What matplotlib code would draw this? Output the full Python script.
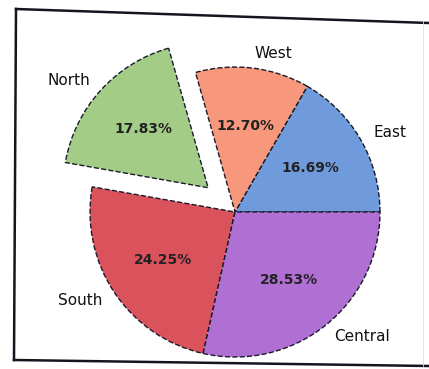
import matplotlib.pyplot as plt
from matplotlib.lines import Line2D

regions = ['East', 'West', 'North', 'South', 'Central']
shares = [16.69, 12.70, 17.83, 24.25, 28.53]
colors = ['#6f9bdc', '#f7987c', '#a3cc86', '#d9525c', '#b06fd3']
explode = [0, 0, 0.25, 0, 0]

W, H = 429, 369
fig = plt.figure(figsize=(W / 100, H / 100), dpi=100)
fig.patch.set_facecolor('white')

ax = fig.add_axes([0, 0, 1, 1])

wedges, texts, autotexts = ax.pie(
    shares, labels=regions, colors=colors, explode=explode,
    autopct='%1.2f%%', startangle=0, counterclock=True,
    wedgeprops={'edgecolor': '#1a1a2a', 'linewidth': 1, 'linestyle': '--'},
    textprops={'fontsize': 11, 'color': '#111111'},
)
for t in autotexts:
    t.set_fontsize(10)
    t.set_fontweight('bold')
    t.set_color('#222222')

# pie centre at (235, 212) px from top-left, radius 145 px
cx, cy, r = 235, H - 212, 145
ax.set_aspect('auto')
ax.set_xlim(-cx / r, (W - cx) / r)
ax.set_ylim(-cy / r, (H - cy) / r)
ax.axis('off')

# hand-drawn looking frame round the chart
def px(x, y):
    return x / W, 1 - y / H

frame = [((16, 9), (429, 23)), ((16, 9), (14, 360)), ((14, 360), (429, 366)),
         ((423, 20), (423, 366))]
for (x0, y0), (x1, y1), in frame:
    p0, p1 = px(x0, y0), px(x1, y1)
    lw, c = (1.8, '#15151f') if x0 != 423 else (0.6, '#dddddd')
    fig.add_artist(Line2D([p0[0], p1[0]], [p0[1], p1[1]], color=c, lw=lw,
                          transform=fig.transFigure))

plt.savefig('out.png', dpi=100)
